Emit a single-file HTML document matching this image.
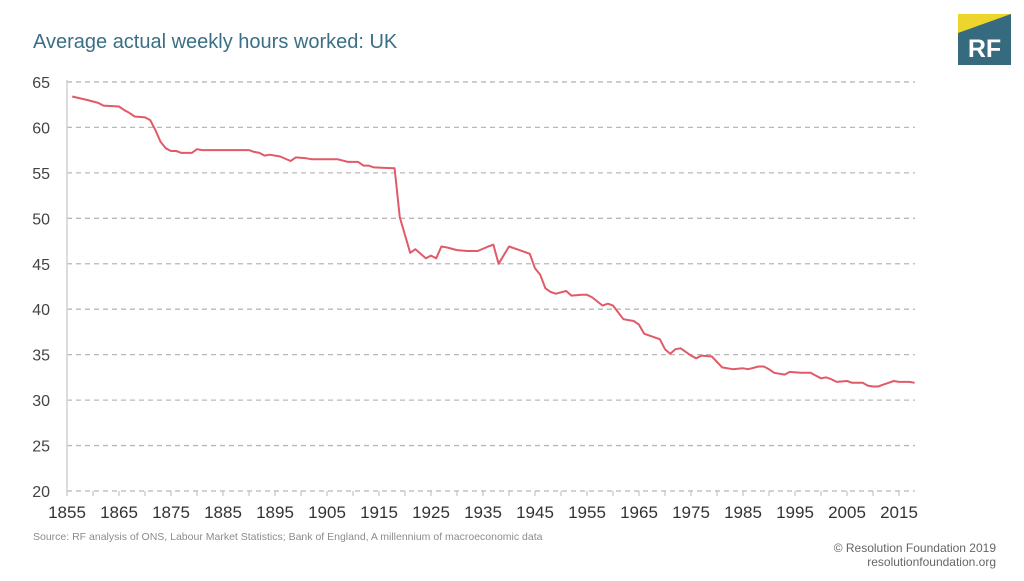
<!DOCTYPE html>
<html><head><meta charset="utf-8">
<style>
body{margin:0;background:#fff;width:1024px;height:576px;overflow:hidden;font-family:"Liberation Sans",sans-serif;}
svg text{font-family:"Liberation Sans",sans-serif;}
</style></head>
<body>
<svg id="chart" width="1024" height="576" viewBox="0 0 1024 576">
<text x="33" y="48" font-size="20" fill="#3a6f86">Average actual weekly hours worked: UK</text>
<g>
<rect x="958" y="14" width="53" height="51" fill="#366a7f"/>
<polygon points="958,14 1011,14 958,33" fill="#ecd52d"/>
<text x="984.5" y="57" font-size="25" font-weight="bold" fill="#fff" text-anchor="middle">RF</text>
</g>
<g id="grid"></g>
<g id="axes"></g>
<path id="line" fill="none" stroke="#e05a68" stroke-width="2" stroke-linejoin="round"/>
<text x="33" y="540" font-size="10.5" fill="#8c8c8c">Source: RF analysis of ONS, Labour Market Statistics; Bank of England, A millennium of macroeconomic data</text>
<text x="996" y="552" font-size="12" fill="#666" text-anchor="end">© Resolution Foundation 2019</text>
<text x="996" y="566" font-size="12" fill="#666" text-anchor="end">resolutionfoundation.org</text>
</svg>
<script>
const years=[1856,1859,1861,1862,1865,1866,1867,1868,1870,1871,1872,1873,1874,1875,1876,1877,1879,1880,1881,1887,1890,1891,1892,1893,1894,1896,1898,1899,1901,1902,1907,1909,1911,1912,1913,1914,1918,1919,1921,1922,1923,1924,1925,1926,1927,1928,1930,1932,1934,1936,1937,1938,1940,1942,1944,1945,1946,1947,1948,1949,1951,1952,1954,1955,1956,1958,1959,1960,1962,1963,1964,1965,1966,1967,1969,1970,1971,1972,1973,1974,1975,1976,1977,1979,1980,1981,1983,1985,1986,1988,1989,1990,1991,1993,1994,1996,1998,1999,2000,2001,2002,2003,2005,2006,2008,2009,2010,2011,2012,2014,2015,2017,2018];
const hours=[63.4,63.0,62.7,62.4,62.3,61.9,61.6,61.2,61.1,60.8,59.7,58.4,57.7,57.4,57.4,57.2,57.2,57.6,57.5,57.5,57.5,57.3,57.2,56.9,57.0,56.8,56.3,56.7,56.6,56.5,56.5,56.2,56.2,55.8,55.8,55.6,55.5,50.1,46.2,46.6,46.1,45.6,45.9,45.6,46.9,46.8,46.5,46.4,46.4,46.9,47.1,45.0,46.9,46.5,46.1,44.5,43.8,42.3,41.9,41.7,42.0,41.5,41.6,41.6,41.3,40.4,40.6,40.4,38.9,38.8,38.7,38.3,37.3,37.1,36.7,35.6,35.1,35.6,35.7,35.3,34.9,34.6,34.9,34.8,34.2,33.6,33.4,33.5,33.4,33.7,33.7,33.4,33.0,32.8,33.1,33.0,33.0,32.7,32.4,32.5,32.3,32.0,32.1,31.9,31.9,31.6,31.5,31.5,31.7,32.1,32.0,32.0,31.9];
const yTicks=[20,25,30,35,40,45,50,55,60,65];
const xLabels=[1855,1865,1875,1885,1895,1905,1915,1925,1935,1945,1955,1965,1975,1985,1995,2005,2015];
const NS='http://www.w3.org/2000/svg';
const X=y=>67+(y-1855)*5.2;
const Y=v=>491-(v-20)*9.09;
const grid=document.getElementById('grid'),axes=document.getElementById('axes');
function mk(tag,attrs,parent){const e=document.createElementNS(NS,tag);for(const k in attrs)e.setAttribute(k,attrs[k]);parent.appendChild(e);return e;}
yTicks.forEach(t=>{
  const l=mk('line',{x1:67,x2:915,y1:Y(t),y2:Y(t),stroke:'#b8b8b8','stroke-width':1.3,'stroke-dasharray':'5,4'},grid);
  
  
  const tx=mk('text',{x:50,y:Y(t)+6,'font-size':16,fill:'#444','text-anchor':'end'},axes);
  tx.textContent=t;
  
  
});
const ya=mk('line',{x1:67,x2:67,y1:80,y2:492,stroke:'#d0d0d0','stroke-width':1.5},axes);


for(let y=1855;y<=2015;y+=5){
  const tk=mk('line',{x1:X(y),x2:X(y),y1:491,y2:496,stroke:'#b8b8b8','stroke-width':1},axes);
  
  
}
xLabels.forEach(y=>{
  const tx=mk('text',{x:X(y),y:518,'font-size':17,fill:'#333','text-anchor':'middle'},axes);
  tx.textContent=y;
  
  
});
document.getElementById('line').setAttribute('d',years.map((y,i)=>(i?'L':'M')+X(y).toFixed(1)+','+Y(hours[i]).toFixed(1)).join(''));
</script>
</body></html>
